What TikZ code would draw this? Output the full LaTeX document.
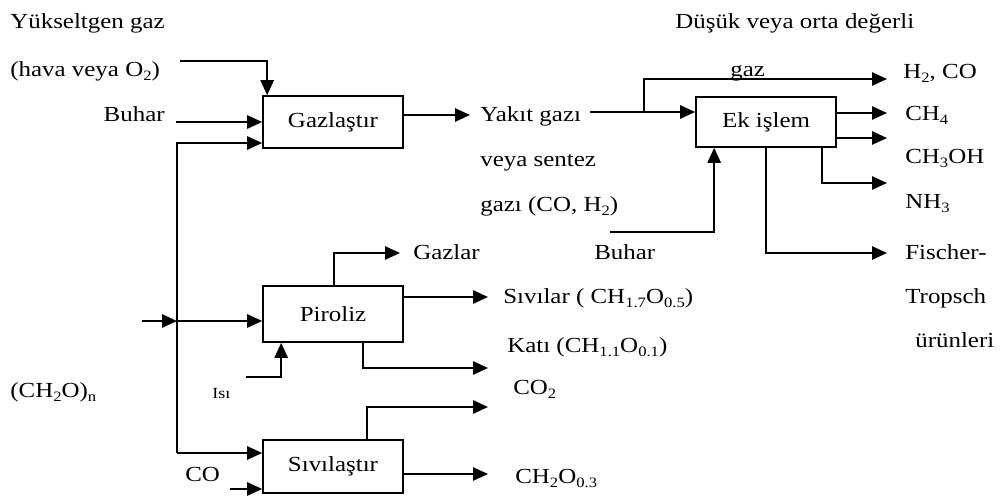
\documentclass[tikz,border=0pt]{standalone}
\usepackage{fontspec}
\setmainfont{Liberation Serif}[FakeStretch=1.16]
\usetikzlibrary{arrows.meta}
\newcommand\lsub[1]{\raisebox{-2.4pt}{\fontsize{8.6}{9}\selectfont #1}}
\tikzset{
  box/.style={draw, line width=1pt, minimum width=84pt, inner sep=0pt, font=\fontsize{12.9}{15}\selectfont},
  arr/.style={line width=1pt, -{Triangle[length=9pt,width=8pt]}},
  ln/.style={line width=1pt},
  lbl/.style={inner sep=0pt, font=\fontsize{12.9}{15}\selectfont},
  smalllbl/.style={inner sep=0pt, font=\fontsize{9.3}{11}\selectfont}
}
\begin{document}
\begin{tikzpicture}[x=0.6pt,y=-0.6pt]
\useasboundingbox (0,0) rectangle (1003,501);
% boxes
\node[box, minimum height=31.2pt] (gaz) at (333,122) {Gazlaştır};
\node[box, minimum height=33.6pt] (pir) at (333,314) {Piroliz};
\node[box, minimum height=31.8pt] (siv) at (333,466.5) {Sıvılaştır};
\node[box, minimum height=30pt] (ek) at (766,122) {Ek işlem};
% labels
\node[lbl, anchor=base west] (yuk) at (10,28) {Yükseltgen gaz};
\node[lbl, anchor=base west] (hava) at (10,77) {(hava veya O\lsub{2})};
\node[lbl, anchor=base east] (buhL) at (165,121) {Buhar};
\node[lbl, anchor=base west] (cho) at (10,397) {(CH\lsub{2}O)\lsub{n}};
\node[smalllbl, anchor=base west] (isit) at (212,398) {Isı};
\node[lbl, anchor=base west] (cot) at (185,481) {CO};
\node[lbl, anchor=base west] (yak) at (480,121) {Yakıt gazı};
\node[lbl, anchor=base west] (ves) at (480,166) {veya sentez};
\node[lbl, anchor=base west] (gco) at (480,211) {gazı (CO, H\lsub{2})};
\node[lbl, anchor=base west] (buhM) at (594,259) {Buhar};
\node[lbl, anchor=base west] (gzt) at (413,259) {Gazlar};
\node[lbl, anchor=base west] (svt) at (503,303) {Sıvılar ( CH\lsub{1.7}O\lsub{0.5})};
\node[lbl, anchor=base west] (ktt) at (507,352) {Katı (CH\lsub{1.1}O\lsub{0.1})};
\node[lbl, anchor=base west] (co2t) at (513,394) {CO\lsub{2}};
\node[lbl, anchor=base west] (chot) at (515,483) {CH\lsub{2}O\lsub{0.3}};
\node[lbl, anchor=base west] (dus) at (675,28) {Düşük veya orta değerli};
\node[lbl, anchor=base west] (gzz) at (730,77) {gaz};
\node[lbl, anchor=base west] (h2co) at (903,78) {H\lsub{2}, CO};
\node[lbl, anchor=base west] (ch4t) at (905,120) {CH\lsub{4}};
\node[lbl, anchor=base west] (meo) at (905,163) {CH\lsub{3}OH};
\node[lbl, anchor=base west] (nh3) at (905,208) {NH\lsub{3}};
\node[lbl, anchor=base west] (fis) at (905,259) {Fischer-};
\node[lbl, anchor=base west] (tro) at (905,303) {Tropsch};
\node[lbl, anchor=base west] (uru) at (915,347) {ürünleri};
% coordinates
\coordinate (o2) at (180,61);
\coordinate (bl) at (176,122);
\coordinate (t1) at (177,143);
\coordinate (t2) at (177,453);
\coordinate (cin) at (142,321);
\coordinate (cj) at (177,321);
\coordinate (isi) at (246,377);
\coordinate (coin) at (230,489);
\coordinate (gzl) at (400,253);
\coordinate (svl) at (488,297);
\coordinate (kat) at (488,368);
\coordinate (co2) at (488,407);
\coordinate (chx) at (488,474);
\coordinate (yk) at (470,115);
\coordinate (yk2) at (590,112);
\coordinate (br) at (644,112);
\coordinate (h2) at (887,79);
\coordinate (ch4) at (887,113);
\coordinate (c3) at (887,138);
\coordinate (nh) at (887,183);
\coordinate (ft) at (887,253);
\coordinate (bm) at (610,232);
% connectors
\draw[arr] (o2) -| ([xshift=3pt]gaz.north west);
\draw[arr] (bl) -- (bl -| gaz.west);
\draw[arr] (t2) -- (t1) -- (t1 -| gaz.west);
\draw[arr] (t2) -- (t2 -| siv.west);
\draw[arr] (cin) -- (cj);
\draw[arr] (cj) -- (cj -| pir.west);
\draw[arr] (isi) -| ([xshift=11.4pt]pir.south west);
\draw[arr] (coin) -- (coin -| siv.west);
\draw[arr] ([xshift=43.2pt]pir.north west) |- (gzl);
\draw[arr] (svl -| pir.east) -- (svl);
\draw[arr] ([xshift=60.6pt]pir.south west) |- (kat);
\draw[arr] ([xshift=63pt]siv.north west) |- (co2);
\draw[arr] (chx -| siv.east) -- (chx);
\draw[arr] (yk -| gaz.east) -- (yk);
\draw[arr] (yk2) -- (yk2 -| ek.west);
\draw[arr] (br) |- (h2);
\draw[arr] (ch4 -| ek.east) -- (ch4);
\draw[arr] (c3 -| ek.east) -- (c3);
\draw[arr] ([xshift=-9pt]ek.south east) |- (nh);
\draw[arr] ([xshift=42.6pt]ek.south west) |- (ft);
\draw[arr] (bm) -| ([xshift=11.4pt]ek.south west);
\end{tikzpicture}
\end{document}
